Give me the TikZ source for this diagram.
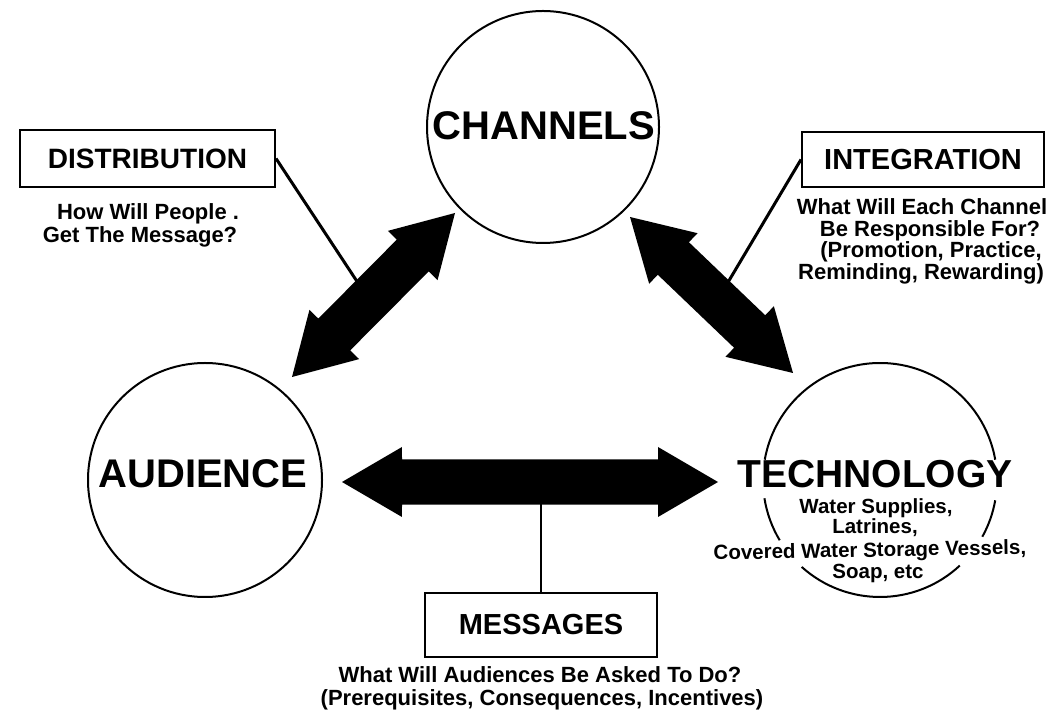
\documentclass[tikz,border=0pt]{standalone}
\usepackage{fontspec}
\setmainfont{Liberation Sans}
\usetikzlibrary{calc}
\newcommand{\fsz}[1]{\fontsize{#1}{#1}\selectfont}
% fat double-headed arrow between two named coordinates
\newcommand{\fatarrow}[2]{%
  \fill ($(#1)!69.46pt!30.26:(#2)$) -- (#1) -- ($(#1)!69.46pt!-30.26:(#2)$)
     -- ($(#1)!64.08pt!-20.56:(#2)$) -- ($(#2)!64.08pt!20.56:(#1)$)
     -- ($(#2)!69.46pt!30.26:(#1)$) -- (#2) -- ($(#2)!69.46pt!-30.26:(#1)$)
     -- ($(#2)!64.08pt!-20.56:(#1)$) -- ($(#1)!64.08pt!20.56:(#2)$) -- cycle;}
\begin{document}
\begin{tikzpicture}[x=1pt,y=1pt,
  big/.style={font=\fsz{40}\bfseries, inner sep=0, anchor=base},
  boxlab/.style={draw, line width=2pt, inner sep=0, font=\fsz{29}\bfseries},
  sub/.style={font=\fsz{22}\bfseries, inner sep=0, anchor=base},
  tsub/.style={font=\fsz{20.5}\bfseries, inner sep=0, anchor=base},
  ring/.style={circle, draw, line width=2pt, inner sep=0, minimum size=#1},
  link/.style={line width=3pt}]
\fill[white] (0,0) rectangle (1063,723);
\useasboundingbox (0,0) rectangle (1063,723);

% circles
\node[ring=232] (chan) at (543,596) {};
\node[big] (chanT) at (544,583) {CHANNELS};
\node[ring=234] (aud) at (205,243) {};
\node[big] (audT) at (203,235) {AUDIENCE};
\node[circle, minimum size=234, inner sep=0] (tech) at (880,243) {};
\node[big, font=\fsz{39}\bfseries] (techT) at (875,235) {TECHNOLOGY};
\foreach \a/\b in {10/170,189/211,228/313,331/350}
  \draw[line width=2pt] ([shift={(\a:117)}]tech.center) arc[start angle=\a, end angle=\b, radius=117];
\node[tsub] (t1) at (876,209) {Water Supplies,};
\node[tsub] (t2) at (875,189) {Latrines,};
\node[tsub, rotate=1] (t3) at (870,166) {Covered Water Storage Vessels,};
\node[tsub] (t4) at (878,144) {Soap, etc};

% boxes
\node[boxlab, font=\fsz{28}\bfseries, minimum width=255, minimum height=57] (dist) at (147.5,564.5) {DISTRIBUTION};
\node[boxlab, minimum width=242, minimum height=55] (integ) at (923,563.5) {INTEGRATION};
\node[boxlab, minimum width=232, minimum height=64] (mess) at (541,98) {MESSAGES};

% subtitles
\node[sub] (d1) at (148,503) {How Will People .};
\node[sub] (d2) at (140,480) {Get The Message?};
\node[sub] (i1) at (922,508) {What Will Each Channel};
\node[sub] (i2) at (930,486) {Be Responsible For?};
\node[sub] (i3) at (931,465) {(Promotion, Practice,};
\node[sub] (i4) at (921,443) {Reminding, Rewarding)};
\node[sub] (m1) at (540,41) {What Will Audiences Be Asked To Do?};
\node[sub] (m2) at (542,17) {(Prerequisites, Consequences, Incentives)};

% arrow end points
\coordinate (la1) at (455,510); \coordinate (la2) at (292,346);
\coordinate (ra1) at (630,506); \coordinate (ra2) at (793,350);
\coordinate (ha1) at (342,241); \coordinate (ha2) at (718,241);
\coordinate (dj) at (362,434);
\coordinate (ij) at (724,434);
\coordinate (mj) at (541,230);

% connectors from boxes
\draw[link] (dist.east) -- (dj);
\draw[link] (integ.west) -- (ij);
\draw[line width=2.5pt] (mess.north) -- (mj);

% fat arrows
\fatarrow{la1}{la2}
\fatarrow{ra1}{ra2}
\fatarrow{ha1}{ha2}
\end{tikzpicture}
\end{document}
